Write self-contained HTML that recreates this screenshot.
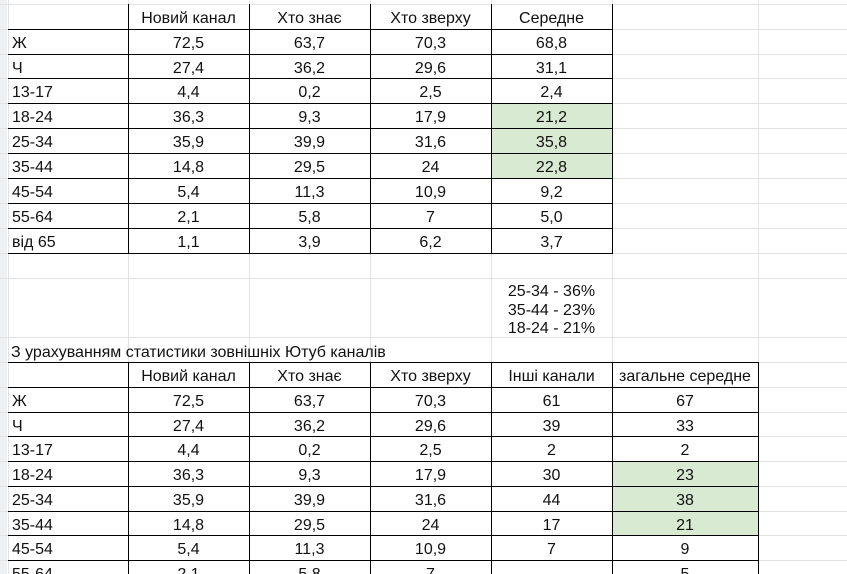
<!DOCTYPE html><html style="width:847px;height:574px;overflow:hidden"><head><meta charset="utf-8"><style>
html,body{margin:0;width:847px;height:574px;overflow:hidden}
body{background:#fff;font-family:"Liberation Sans",Arial,sans-serif;font-size:16px;color:#111;position:relative}
.h,.v,.c,.g{position:absolute}
.h{height:1px;left:0;width:847px;background:#e2e2e2}
.v{width:1px;top:0;height:574px;background:#e2e2e2}
.g{background:#d9ead3}
.c{line-height:25px;white-space:nowrap;text-align:center}
.l{text-align:left}
.b{position:absolute;background:#000}
</style></head><body>
<div style="position:absolute;left:0;top:0;width:7px;height:574px;background:#eef0f2"></div>
<div id="grid"></div>
<script>
var ys=[4,29,54,78,103,128,153,178,203,228,253,278,337,362,387,412,436,461,486,511,535,560,585];
var xs=[8,128,249,370,491,612,758];
var o='';
ys.forEach(y=>{if(y<574)o+='<div class="h" style="top:'+y+'px"></div>';});
xs.forEach(x=>o+='<div class="v" style="left:'+x+'px"></div>');
[[491,103,121],[491,128,121],[491,153,121]].forEach(a=>o+='<div class="g" style="left:'+(a[0]+1)+'px;top:'+(a[1]+1)+'px;width:'+a[2]+'px;height:24px"></div>');
[[612,461],[612,486],[612,511]].forEach(a=>o+='<div class="g" style="left:'+(a[0]+1)+'px;top:'+(a[1]+1)+'px;width:146px;height:24px"></div>');
function tbl(x0,x1,rows,cols){
 rows.forEach(y=>{if(y<574)o+='<div class="b" style="left:'+x0+'px;top:'+y+'px;width:'+(x1-x0+1)+'px;height:1px"></div>';});
 cols.forEach(x=>o+='<div class="b" style="left:'+x+'px;top:'+rows[0]+'px;width:1px;height:'+Math.min(rows[rows.length-1]-rows[0],574-rows[0])+'px"></div>');
}
tbl(8,612,ys.slice(1,11),[128,249,370,491,612]);
[128,249,370,491,612].forEach(x=>o+='<div class="b" style="left:'+x+'px;top:4px;width:1px;height:25px"></div>');
tbl(8,758,ys.slice(13),[128,249,370,491,612,758]);
function row(y,cells,ws){var x=8;cells.forEach((t,i)=>{var w=ws[i];o+='<div class="c'+(i==0?' l':'')+'" style="left:'+(i==0?x+4:x)+'px;top:'+y+'px;width:'+w+'px">'+t+'</div>';x+=w;});}
var w1=[120,121,121,121,121],w2=[120,121,121,121,121,146];
var t1=[["","Новий канал","Хто знає","Хто зверху","Середне"],["Ж","72,5","63,7","70,3","68,8"],["Ч","27,4","36,2","29,6","31,1"],["13-17","4,4","0,2","2,5","2,4"],["18-24","36,3","9,3","17,9","21,2"],["25-34","35,9","39,9","31,6","35,8"],["35-44","14,8","29,5","24","22,8"],["45-54","5,4","11,3","10,9","9,2"],["55-64","2,1","5,8","7","5,0"],["від 65","1,1","3,9","6,2","3,7"]];
t1.forEach((r,i)=>row(ys[i]+2,r,w1));
var t2=[["","Новий канал","Хто знає","Хто зверху","Інші канали","загальне середне"],["Ж","72,5","63,7","70,3","61","67"],["Ч","27,4","36,2","29,6","39","33"],["13-17","4,4","0,2","2,5","2","2"],["18-24","36,3","9,3","17,9","30","23"],["25-34","35,9","39,9","31,6","44","38"],["35-44","14,8","29,5","24","17","21"],["45-54","5,4","11,3","10,9","7","9"],["55-64","2,1","5,8","7","","5"]];
t2.forEach((r,i)=>row(ys[i+13]+2,r,w2));
o+='<div style="position:absolute;left:491px;top:283px;width:121px;text-align:center;line-height:18.5px">25-34 - 36%<br>35-44 - 23%<br>18-24 - 21%</div>';
o+='<div class="c l" style="left:11px;top:340px;background:transparent">З урахуванням статистики зовнішніх Ютуб каналів</div>';
document.getElementById('grid').innerHTML=o;
</script>
</body></html>
